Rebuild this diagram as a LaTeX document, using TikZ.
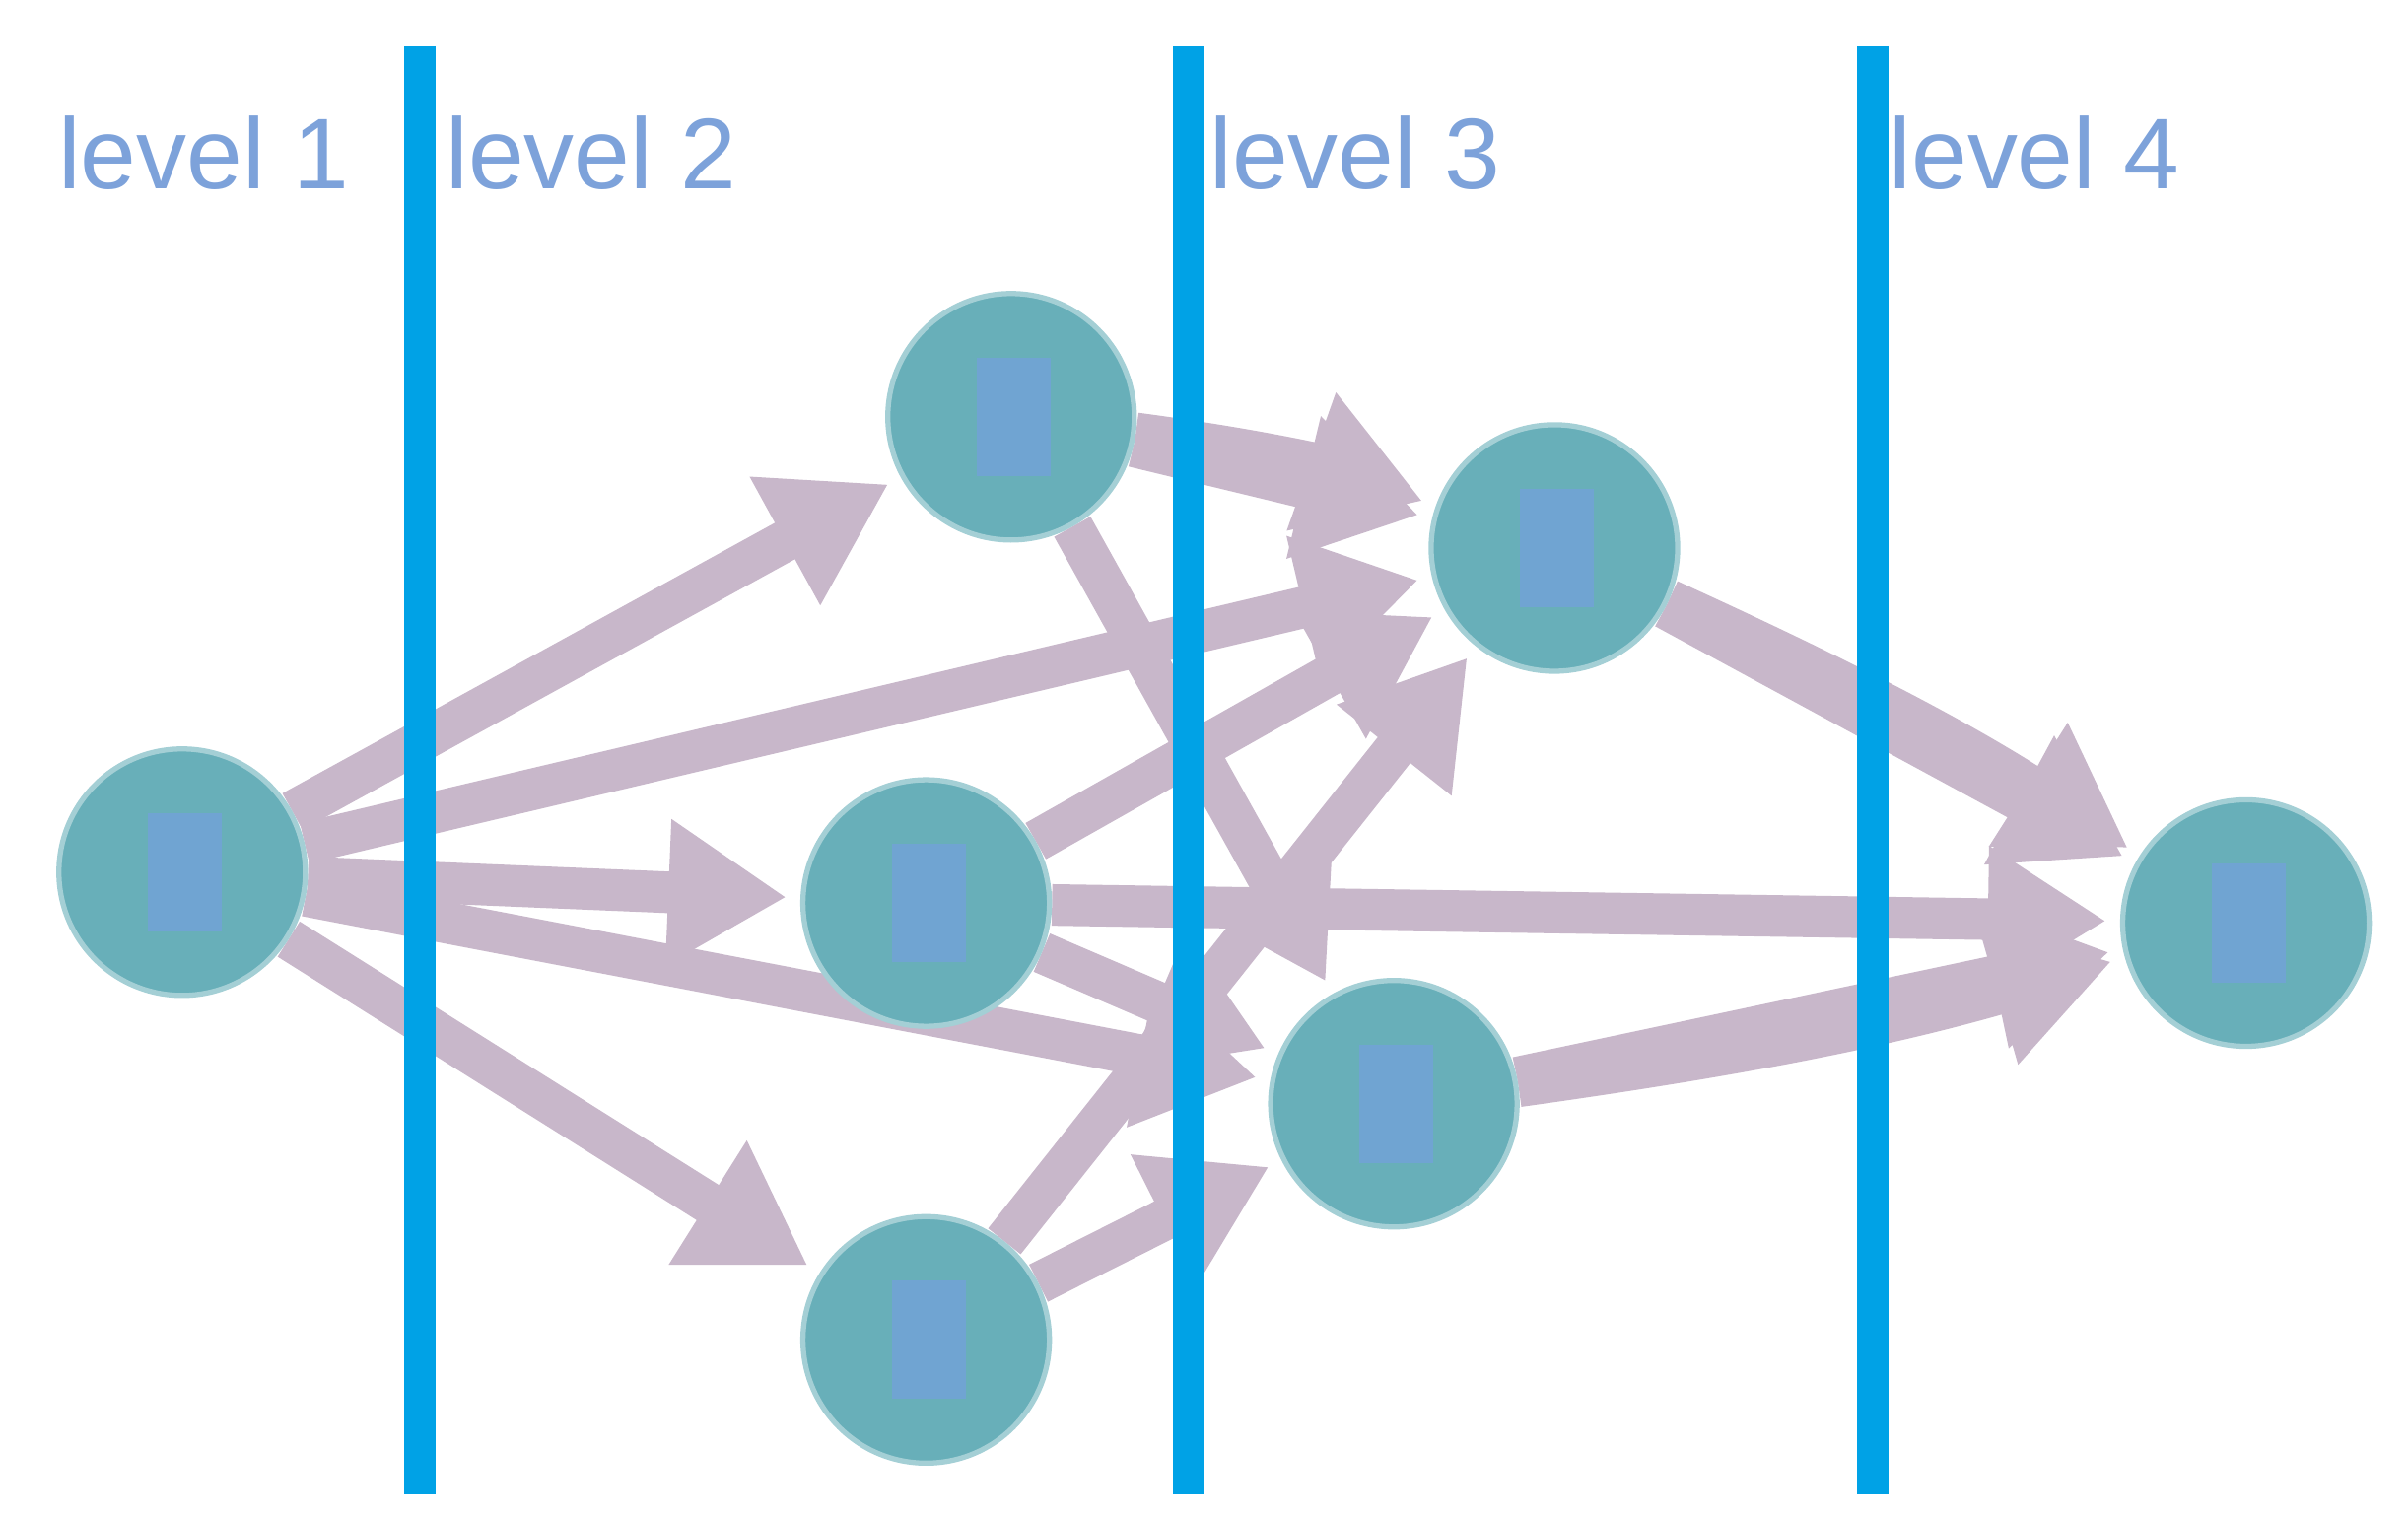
\documentclass[tikz,border=0pt]{standalone}
\usepackage{fontspec}
\setmainfont{Liberation Sans}
\usetikzlibrary{arrows.meta,backgrounds}
\definecolor{edge}{HTML}{C8B7CA}
\definecolor{bar}{HTML}{00A2E6}
\definecolor{lab}{HTML}{7DA2DA}
\definecolor{teal}{HTML}{68AFB9}
\definecolor{inner}{HTML}{70A4D2}
\begin{document}
\begin{tikzpicture}[x=0.01566cm,y=-0.01566cm,
  nd/.style={circle,minimum size=2.5cm,inner sep=0,fill=teal,draw=teal!60!white,line width=1.5pt,
    path picture={\fill[inner] ([xshift=-0.35cm,yshift=-0.6cm]path picture bounding box.center) rectangle ++(0.75cm,1.2cm);}},
  ed/.style={draw=edge,line width=12pt,-{Triangle[length=1.2cm,width=1.4cm]},shorten >=4pt},
  lv/.style={text=lab,font=\fontsize{29}{34}\selectfont,anchor=base},
  br/.style={draw=bar,line width=0.32cm}]
\useasboundingbox (0,0) rectangle (1560,982);
\node[nd] (A) at (118,565) {};
\node[nd] (B) at (655,270) {};
\node[nd] (C) at (600,585) {};
\node[nd] (D) at (600,868) {};
\node[nd] (E) at (1007,355) {};
\node[nd] (F) at (903,715) {};
\node[nd] (G) at (1455,598) {};
\node[lv] (l1) at (132,122) {level 1};
\node[lv] (l2) at (383,122) {level 2};
\node[lv] (l3) at (878,122) {level 3};
\node[lv] (l4) at (1318,122) {level 4};
\coordinate (t1) at (272,30); \coordinate (b1) at (272,968);
\coordinate (t2) at (770,30); \coordinate (b2) at (770,968);
\coordinate (t3) at (1213,30); \coordinate (b3) at (1213,968);
\begin{scope}[on background layer]
\path[ed] (A) -- (B);
\path[ed] (A) -- (E);
\path[ed] (A) -- (C);
\path[ed] (A) -- (F);
\path[ed] (A) -- (D);
\path[ed] (B) to[bend left=6] (E);
\path[ed] (B) -- (E);
\path[ed] (B) -- (F);
\path[ed] (C) -- (E);
\path[ed] (C) -- (G);
\path[ed] (C) -- (F);
\path[ed] (D) -- (E);
\path[ed] (D) -- (F);
\path[ed] (E) -- (G);
\path[ed] (E) to[bend left=4] (G);
\path[ed] (F) -- (G);
\path[ed] (F) to[bend right=4] (G);
\path[br] (t1) -- (b1);
\path[br] (t2) -- (b2);
\path[br] (t3) -- (b3);
\end{scope}
\end{tikzpicture}
\end{document}
